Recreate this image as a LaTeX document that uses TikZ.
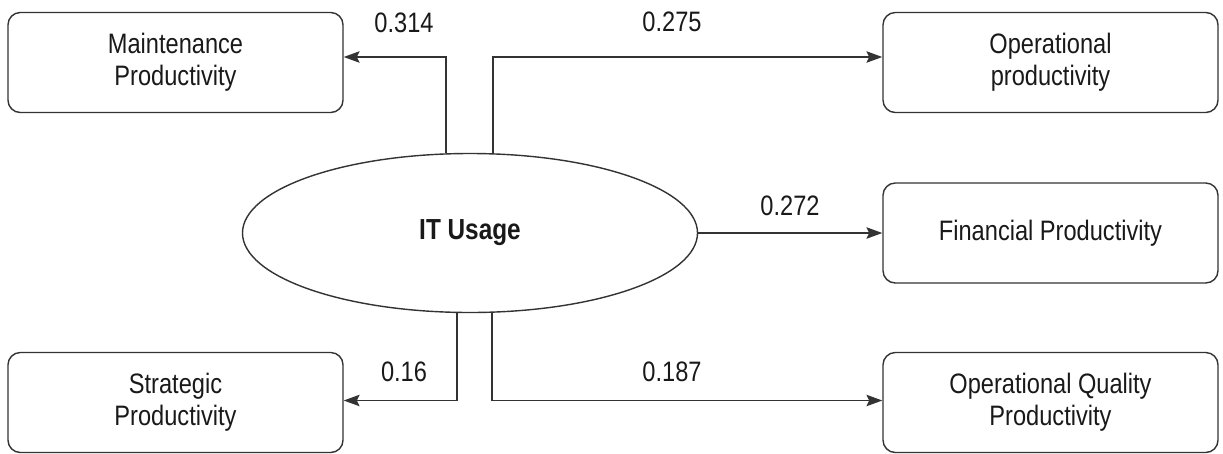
\documentclass[tikz,border=0pt]{standalone}
\usepackage{fontspec}
\setmainfont{Liberation Sans}[FakeStretch=0.84]
\usepackage{tikz}
\usetikzlibrary{%
  shapes.geometric,
  arrows.meta,
  positioning,
  calc}
\tikzset{
  %% Outcome boxes
  prodbox/.style={
    rectangle, rounded corners=7pt,
    draw=black!80, line width=0.8pt,
    minimum width=6.70cm, minimum height=2.00cm,
    align=center, text=black!90,
    font=\fontsize{16}{18}\selectfont},
  %% Central construct
  usagenode/.style={
    ellipse, draw=black!80, line width=0.8pt,
    minimum width=9.10cm, minimum height=3.18cm,
    text=black!90, font=\fontsize{16.5}{17}\selectfont\bfseries},
  %% Path coefficients
  coef/.style={text=black!90, font=\fontsize{16}{16}\selectfont},
  %% Arrows
  arrow/.style={-{Stealth[length=9pt, width=6.5pt, inset=1.5pt]},
    line width=0.8pt, black!80},
}
\begin{document}
\begin{tikzpicture}
  \useasboundingbox (0,0) rectangle (24.46,-9.06);

  %% Construct
  \node[usagenode] (usage) at (9.40,-4.66) {IT Usage};

  %% Left column
  \node[prodbox] (maint) at (3.51,-1.25) {Maintenance\\ Productivity};
  \node[prodbox] (strat) at (3.51,-8.05) {Strategic\\ Productivity};

  %% Right column
  \node[prodbox] (oper) at (21.01,-1.25) {Operational\\ productivity};
  \node[prodbox] (fin)  at (21.01,-4.66) {Financial Productivity};
  \node[prodbox] (qual) at (21.01,-8.05) {Operational Quality\\ Productivity};

  %% Paths out of the ellipse
  \draw[arrow] ([xshift=-0.48cm]usage.north) |- ([yshift=0.11cm]maint.east);
  \draw[arrow] ([xshift=0.46cm]usage.north)  |- ([yshift=0.11cm]oper.west);
  \draw[arrow] (usage.east) -- (fin.west);
  \draw[arrow] ([xshift=-0.26cm]usage.south) |- ([yshift=0.04cm]strat.east);
  \draw[arrow] ([xshift=0.44cm]usage.south)  |- ([yshift=0.04cm]qual.west);

  %% Coefficients
  \node[coef] (cMaint) at (8.08,-0.46) {0.314};
  \node[coef] (cOper)  at (13.44,-0.44) {0.275};
  \node[coef] (cFin)   at (15.80,-4.12) {0.272};
  \node[coef] (cStrat) at (8.08,-7.44) {0.16};
  \node[coef] (cQual)  at (13.44,-7.44) {0.187};

\end{tikzpicture}
\end{document}
